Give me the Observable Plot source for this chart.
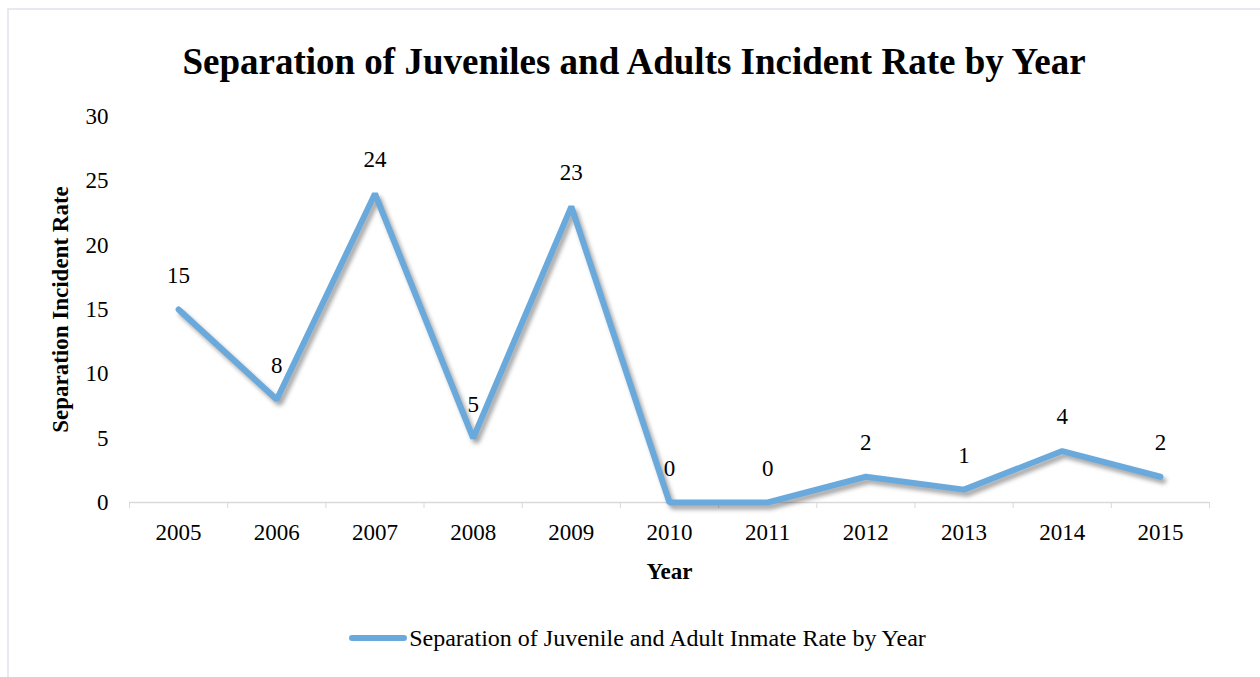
<!DOCTYPE html>
<html>
<head>
<meta charset="utf-8">
<script src="https://cdn.jsdelivr.net/npm/d3@7"></script>
<script src="https://cdn.jsdelivr.net/npm/@observablehq/plot@0.6"></script>
<style>
  html, body { margin: 0; padding: 0; background: #fff; }
  body { width: 1260px; height: 677px; position: relative; overflow: hidden; font-family: "Liberation Serif", "Times New Roman", serif; }
  #frame { position: absolute; left: 7px; top: 8px; width: 1270px; height: 700px; border: 2px solid #e6e9ed; box-sizing: border-box; pointer-events: none; }
  #title { height: 100px; display: flex; align-items: center; justify-content: center; padding-top: 22px; padding-left: 8px; box-sizing: border-box; font-weight: bold; font-size: 37px; color: #000; }
  #chart svg { display: block; }
  #legend { display: flex; justify-content: center; align-items: center; height: 56px; font-size: 24px; color: #000; padding-left: 15px; }
  #legend .sw { width: 58px; height: 6px; border-radius: 3px; margin-right: 2px; }
</style>
</head>
<body>
<div id="frame"></div>
<div id="title"></div>
<div id="chart"></div>
<div id="legend"></div>
<script>
const titleText = "Separation of Juveniles and Adults Incident Rate by Year";
const seriesName = "Separation of Juvenile and Adult Inmate Rate by Year";
const xLabel = "Year";
const yLabel = "Separation Incident Rate";
const years = [2005, 2006, 2007, 2008, 2009, 2010, 2011, 2012, 2013, 2014, 2015];
const rates = [15, 8, 24, 5, 23, 0, 0, 2, 1, 4, 2];
const yTicks = [0, 5, 10, 15, 20, 25, 30];
const lineColor = "#6aa9dc";

const data = years.map((year, i) => ({year, rate: rates[i]}));
const boundaries = [years[0] - 0.5, ...years.map(y => y + 0.5)];

document.getElementById("title").textContent = titleText;

const plot = Plot.plot({
  width: 1260,
  height: 510,
  marginTop: 16,
  marginBottom: 108,
  marginLeft: 129,
  marginRight: 51,
  style: {fontFamily: "'Liberation Serif', 'Times New Roman', serif", fontSize: "23px", color: "#000", background: "transparent"},
  x: {domain: [years[0] - 0.5, years[years.length - 1] + 0.5]},
  y: {domain: [0, 30]},
  marks: [
    Plot.axisY(yTicks, {tickSize: 0, tickPadding: 21, label: yLabel, labelAnchor: "center", labelOffset: 78, labelArrow: "none", fontSize: 23}),
    Plot.axisX(boundaries, {tickSize: 6, tickFormat: () => "", stroke: "#d9d9d9", label: null}),
    Plot.axisX(years, {tickSize: 0, tickPadding: 21, tickFormat: d => String(d), label: xLabel, labelAnchor: "center", labelOffset: 76, labelArrow: "none", fontSize: 23}),
    Plot.ruleY([0], {stroke: "#d9d9d9", strokeWidth: 1.5}),
    Plot.line(data, {x: "year", y: "rate", stroke: lineColor, strokeWidth: 6, strokeLinejoin: "miter", strokeLinecap: "round"}),
    Plot.text(data, {x: "year", y: "rate", text: d => String(d.rate), dy: -34, fontSize: 23, fill: "#000"})
  ]
});
document.getElementById("chart").appendChild(plot);

// styling tweaks
d3.select(plot).selectAll("g[aria-label='line']").style("filter", "drop-shadow(3px 4px 2px rgba(0,0,0,0.35))");
d3.select(plot).selectAll("g[aria-label='y-axis label'], g[aria-label='x-axis label']").attr("font-weight", "bold").attr("font-size", 23);

const legend = document.getElementById("legend");
const sw = document.createElement("span");
sw.className = "sw";
sw.style.background = lineColor;
const lt = document.createElement("span");
lt.textContent = seriesName;
legend.appendChild(sw);
legend.appendChild(lt);
</script>
</body>
</html>
